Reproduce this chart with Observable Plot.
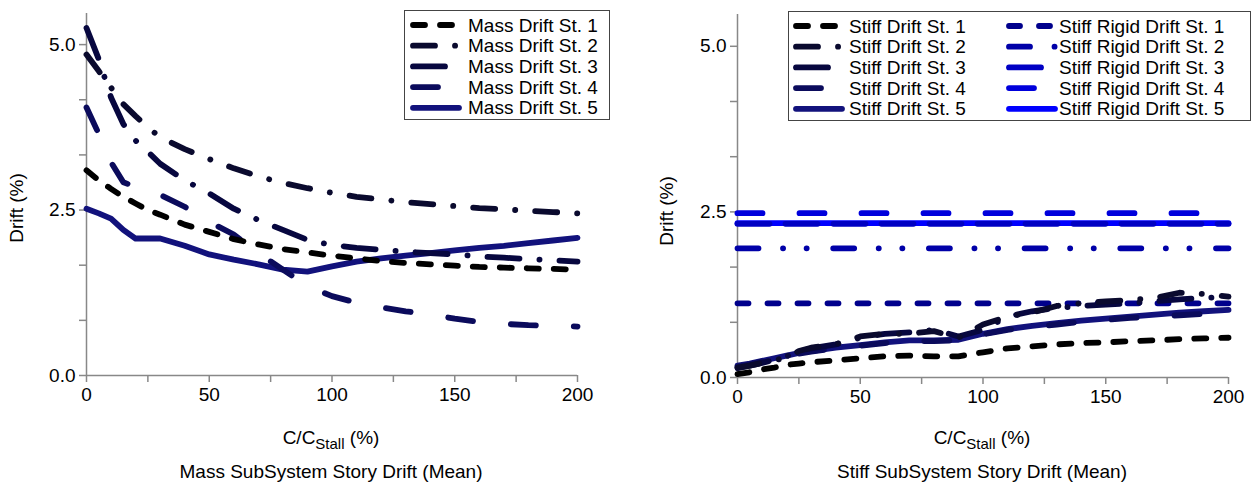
<!DOCTYPE html>
<html>
<head>
<meta charset="utf-8">
<script src="https://cdn.jsdelivr.net/npm/d3@7"></script>
<script src="https://cdn.jsdelivr.net/npm/@observablehq/plot@0.6"></script>
<style>
  html, body { margin: 0; padding: 0; background: #fff; }
  #root { position: relative; width: 1253px; height: 487px; font-family: "Liberation Sans", Arial, sans-serif; color: #000; }
  .panel { position: absolute; top: 0; }
  .lbl { position: absolute; font-size: 19px; line-height: 1; white-space: nowrap; transform: translateX(-50%); }
  .ylbl { position: absolute; font-size: 19px; line-height: 1; white-space: nowrap; transform: translate(-50%, -50%) rotate(-90deg); }
  .legend { position: absolute; border: 1.5px solid #444; background: #fff; }
  .legend svg { position: absolute; left: 0; top: 0; overflow: visible; }
  sub { font-size: 15px; }
</style>
</head>
<body>
<div id="root"></div>
<script>
// ---------- data ----------
const xGrid = [0,5,10,15,20,25,30,40,50,60,70,80,90,100,110,120,130,140,150,160,170,180,190,200];

const massSt1 = [3.1,2.95,2.82,2.7,2.6,2.5,2.43,2.28,2.17,2.06,1.98,1.91,1.86,1.81,1.77,1.73,1.7,1.68,1.66,1.64,1.63,1.62,1.61,1.6];
const massSt2 = [4.85,4.6,4.35,4.1,3.92,3.75,3.6,3.42,3.27,3.13,3.01,2.91,2.83,2.76,2.7,2.66,2.62,2.59,2.56,2.53,2.51,2.49,2.47,2.45];
const massSt3 = [5.25,4.78,4.2,3.8,3.55,3.38,3.2,2.95,2.75,2.52,2.35,2.2,2.05,1.97,1.93,1.9,1.87,1.85,1.83,1.8,1.78,1.76,1.74,1.72];
const massSt4 = [4.05,3.65,3.22,2.92,2.85,2.8,2.73,2.55,2.32,2.13,1.85,1.6,1.35,1.2,1.1,1.03,0.97,0.92,0.86,0.81,0.78,0.76,0.75,0.74];
const massSt5 = [2.52,2.45,2.37,2.2,2.07,2.07,2.07,1.96,1.83,1.75,1.68,1.6,1.57,1.65,1.72,1.77,1.81,1.85,1.89,1.93,1.96,2.0,2.04,2.08];

const stiffSt1 = [0.05,0.08,0.12,0.15,0.19,0.21,0.23,0.26,0.29,0.32,0.33,0.32,0.32,0.38,0.44,0.47,0.5,0.52,0.53,0.55,0.56,0.58,0.59,0.6];
const stiffSt2 = [0.15,0.18,0.22,0.26,0.3,0.4,0.45,0.5,0.62,0.66,0.66,0.7,0.6,0.8,0.92,0.98,1.08,1.12,1.15,1.17,1.2,1.28,1.26,1.22];
const stiffSt3 = [0.14,0.18,0.22,0.27,0.32,0.4,0.44,0.5,0.6,0.66,0.68,0.72,0.62,0.72,0.92,1.0,1.05,1.08,1.1,1.12,1.15,1.18,1.2,1.22];
const stiffSt4 = [0.16,0.2,0.24,0.28,0.32,0.36,0.39,0.44,0.48,0.52,0.55,0.55,0.56,0.65,0.72,0.76,0.8,0.84,0.87,0.9,0.92,0.94,0.96,0.98];
const stiffSt5 = [0.18,0.21,0.25,0.29,0.33,0.37,0.4,0.45,0.49,0.53,0.56,0.56,0.57,0.66,0.73,0.78,0.82,0.86,0.89,0.92,0.95,0.98,1.0,1.02];

const rigidX = [0, 200];
const rigidLevels = [1.12, 1.95, 2.32, 2.48, 2.33];

const massNames = ["Mass Drift St. 1","Mass Drift St. 2","Mass Drift St. 3","Mass Drift St. 4","Mass Drift St. 5"];
const stiffNames = ["Stiff Drift St. 1","Stiff Drift St. 2","Stiff Drift St. 3","Stiff Drift St. 4","Stiff Drift St. 5"];
const rigidNames = ["Stiff Rigid Drift St. 1","Stiff Rigid Drift St. 2","Stiff Rigid Drift St. 3","Stiff Rigid Drift St. 4","Stiff Rigid Drift St. 5"];

const xTicks = [0,25,50,75,100,125,150,175,200];
const xTickLabels = [0,50,100,150,200];
const yTicks = [0, 0.8333, 1.6667, 2.5, 3.3333, 4.1667, 5];
const yTickLabels = [0, 2.5, 5];

// ---------- styles ----------
const darkColors = ["#000000", "#0a0a2e", "#07073f", "#0b0b5c", "#12127c"];
const rigidColors = ["#00008c", "#0000a8", "#0000c4", "#0000dc", "#0000ff"];
const dashes = ["12,15", "22,20,0.1,20", "32,20,0.1,20", "25,38", "none"];
const rigidDashes = ["11,19", "21,24.5,0.1,23.5,0.1,26.5", "32,16", "25,37", "none"];
const SW = 5.8;
const FONT = "Liberation Sans, Arial, sans-serif";

function seriesRows(ys) { return xGrid.map((x, i) => ({x, y: ys[i]})); }
function rigidRows(v) { return rigidX.map(x => ({x, y: v})); }

function axes() {
  return [
    Plot.axisX({ticks: xTicks, tickSize: 7, tickPadding: 5, stroke: "#888", strokeWidth: 1.5,
      tickFormat: d => xTickLabels.includes(d) ? String(d) : "", fontSize: 19, label: null}),
    Plot.axisY({ticks: yTicks, tickSize: 7, tickPadding: 4, stroke: "#888", strokeWidth: 1.5,
      tickFormat: d => yTickLabels.includes(d) ? d.toFixed(1) : "", fontSize: 19, label: null}),
    Plot.ruleX([0], {stroke: "#888", strokeWidth: 1.5}),
    Plot.ruleY([0], {stroke: "#888", strokeWidth: 1.5})
  ];
}

const root = document.getElementById("root");

// ---------- left panel ----------
const massSeries = [massSt1, massSt2, massSt3, massSt4, massSt5];
const left = Plot.plot({
  width: 626, height: 487,
  marginLeft: 86, marginRight: 49, marginTop: 13, marginBottom: 112,
  x: {domain: [0, 200]},
  y: {domain: [0, 5.47]},
  style: {fontFamily: FONT, fontSize: "19px", color: "#000", background: "transparent"},
  marks: [
    ...axes(),
    ...massSeries.map((ys, i) => Plot.line(seriesRows(ys), {x: "x", y: "y", stroke: darkColors[i], strokeWidth: SW,
      strokeDasharray: dashes[i], strokeLinecap: "round", strokeLinejoin: "round"})).reverse()
  ]
});
left.classList.add("panel");
left.style.left = "0px";
root.appendChild(left);

// ---------- right panel ----------
const stiffSeries = [stiffSt1, stiffSt2, stiffSt3, stiffSt4, stiffSt5];
const right = Plot.plot({
  width: 627, height: 487,
  marginLeft: 111, marginRight: 25, marginTop: 14, marginBottom: 110,
  x: {domain: [0, 200]},
  y: {domain: [0, 5.48]},
  style: {fontFamily: FONT, fontSize: "19px", color: "#000", background: "transparent"},
  marks: [
    ...axes(),
    ...rigidLevels.map((v, i) => Plot.line(rigidRows(v), {x: "x", y: "y", stroke: rigidColors[i], strokeWidth: SW,
      strokeDasharray: rigidDashes[i], strokeLinecap: "round"})).reverse(),
    ...stiffSeries.map((ys, i) => Plot.line(seriesRows(ys), {x: "x", y: "y", stroke: darkColors[i], strokeWidth: SW,
      strokeDasharray: dashes[i], strokeLinecap: "round", strokeLinejoin: "round"})).reverse()
  ]
});
right.classList.add("panel");
right.style.left = "626px";
root.appendChild(right);

// ---------- labels ----------
function addLabel(html, x, y, cls) {
  const d = document.createElement("div");
  d.className = cls;
  d.innerHTML = html;
  d.style.left = x + "px";
  d.style.top = y + "px";
  root.appendChild(d);
}
addLabel("C/C<sub>Stall</sub> (%)", 331, 428, "lbl");
addLabel("Mass SubSystem Story Drift (Mean)", 331, 462, "lbl");
addLabel("C/C<sub>Stall</sub> (%)", 982, 428, "lbl");
addLabel("Stiff SubSystem Story Drift (Mean)", 982, 462, "lbl");
addLabel("Drift (%)", 16, 208, "ylbl");
addLabel("Drift (%)", 666, 211, "ylbl");

// ---------- legends ----------
function legend(x, y, w, h, cols) {
  const box = document.createElement("div");
  box.className = "legend";
  box.style.left = x + "px"; box.style.top = y + "px";
  box.style.width = w + "px"; box.style.height = h + "px";
  const svg = d3.create("svg").attr("width", w).attr("height", h);
  cols.forEach(col => {
    col.names.forEach((name, i) => {
      const cy = 14 + i * 20.7;
      svg.append("line").attr("x1", col.sx).attr("x2", col.sx + 46).attr("y1", cy).attr("y2", cy)
        .attr("stroke", col.colors[i]).attr("stroke-width", SW).attr("stroke-linecap", "round")
        .attr("stroke-dasharray", col.dashes[i] === "none" ? null : col.dashes[i]);
      svg.append("text").attr("x", col.tx).attr("y", cy).attr("dy", "0.35em")
        .attr("font-size", 19).attr("font-family", FONT).text(name);
    });
  });
  box.appendChild(svg.node());
  root.appendChild(box);
}
legend(404, 10, 204, 108, [{names: massNames, colors: darkColors, dashes: dashes, sx: 8, tx: 63}]);
legend(788, 11, 461, 108, [
  {names: stiffNames, colors: darkColors, dashes: dashes, sx: 7, tx: 60},
  {names: rigidNames, colors: rigidColors, dashes: rigidDashes, sx: 220, tx: 270}
]);
</script>
</body>
</html>
